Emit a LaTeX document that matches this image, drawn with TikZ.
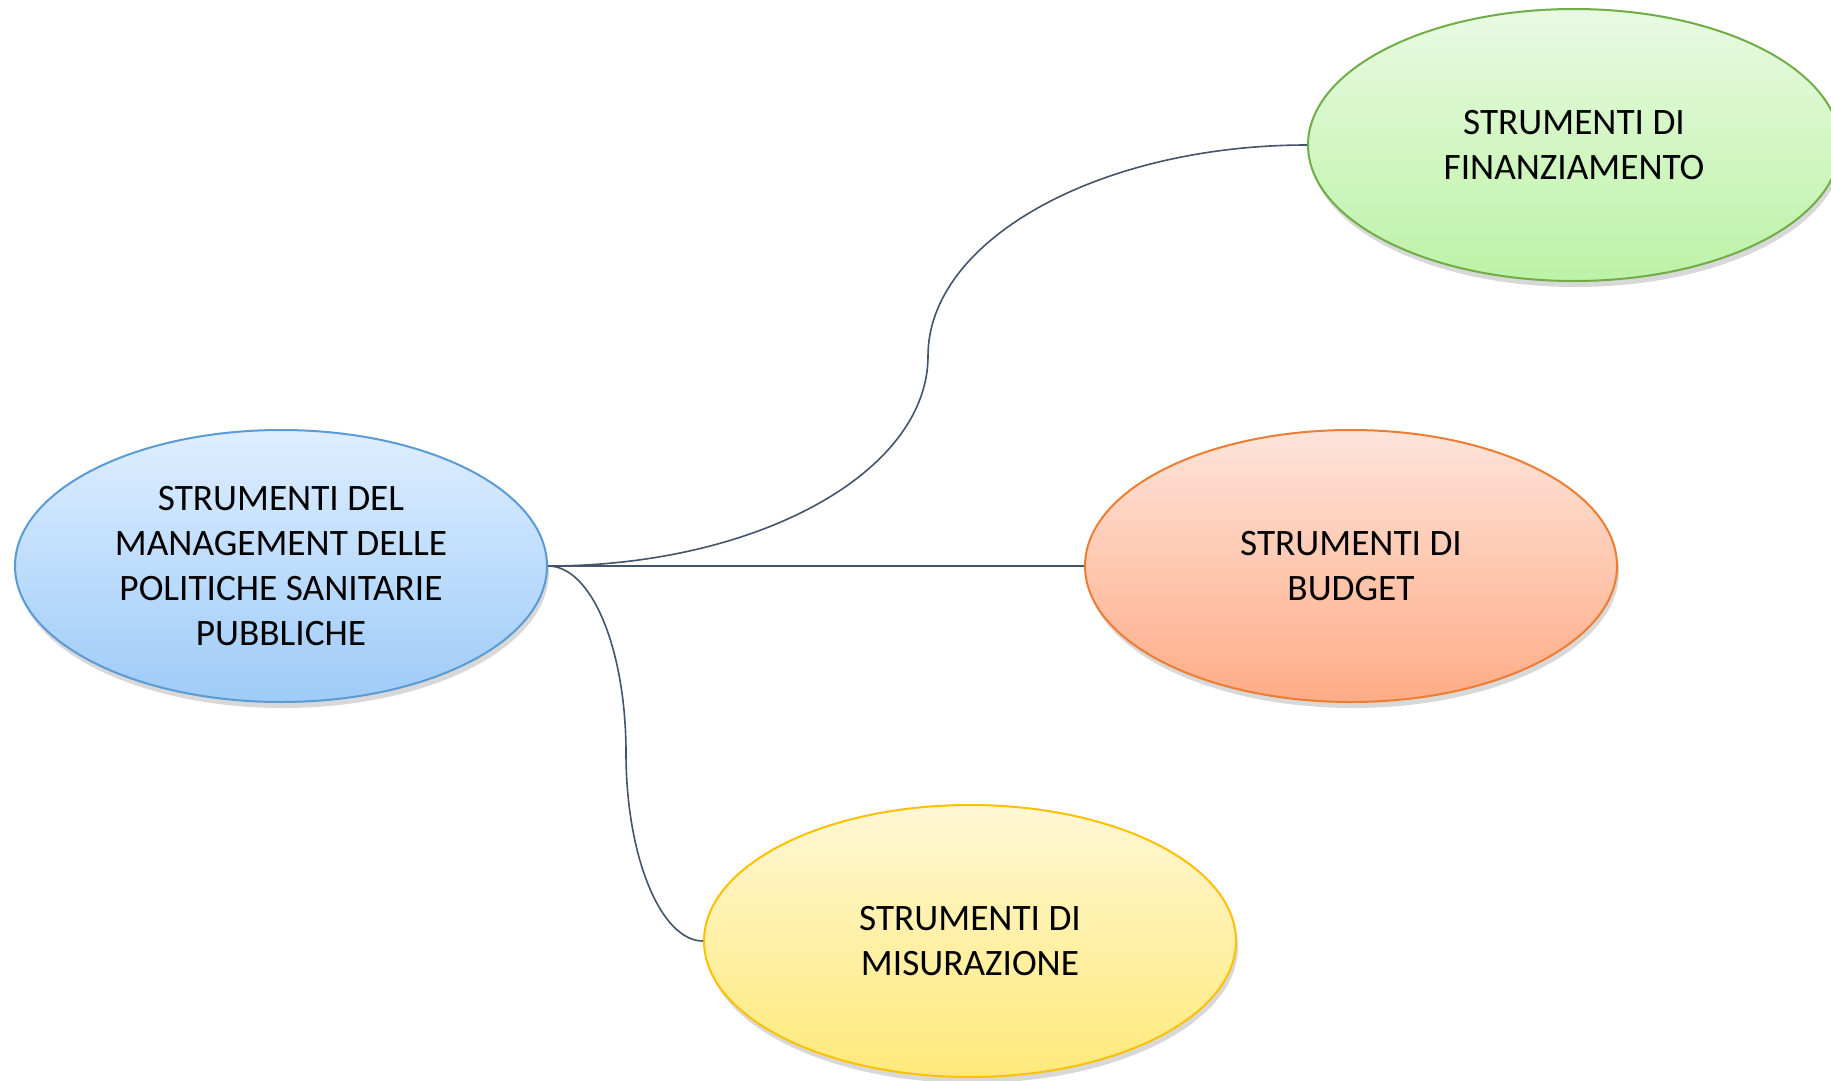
\documentclass[tikz,border=0pt]{standalone}
\usepackage{fontspec}
\setmainfont{Carlito}
\usetikzlibrary{shapes.geometric,shadows}
\definecolor{linkc}{HTML}{44546A}
\definecolor{bluebd}{HTML}{5B9BD5}
\definecolor{bluetop}{RGB}{222,238,255}
\definecolor{bluebot}{RGB}{158,203,248}
\definecolor{greenbd}{RGB}{112,173,71}
\definecolor{greentop}{RGB}{232,250,226}
\definecolor{greenbot}{RGB}{189,242,166}
\definecolor{orangebd}{RGB}{237,125,49}
\definecolor{orangetop}{RGB}{253,228,218}
\definecolor{orangebot}{RGB}{255,172,134}
\definecolor{yellowbd}{RGB}{255,192,0}
\definecolor{yellowtop}{RGB}{255,247,212}
\definecolor{yellowbot}{RGB}{255,233,122}
\tikzset{
  bubble/.style={ellipse, minimum width=532pt, minimum height=272pt, inner sep=0pt,
    line width=2pt, align=center, text=black,
    font=\fontsize{37.3}{45.3}\selectfont,
    drop shadow={opacity=0.3, shadow xshift=2pt, shadow yshift=-6pt}},
  bluebub/.style={bubble, draw=bluebd, top color=bluetop, bottom color=bluebot},
  greenbub/.style={bubble, draw=greenbd, top color=greentop, bottom color=greenbot},
  orangebub/.style={bubble, draw=orangebd, top color=orangetop, bottom color=orangebot},
  yellowbub/.style={bubble, draw=yellowbd, top color=yellowtop, bottom color=yellowbot},
  link/.style={draw=linkc, line width=1.6pt}
}
\begin{document}
\begin{tikzpicture}[x=1pt,y=-1pt]
\useasboundingbox[fill=white] (0,0) rectangle (1831,1081);
\node[bluebub] (blue) at (281,566) {STRUMENTI DEL\\MANAGEMENT DELLE\\POLITICHE SANITARIE\\PUBBLICHE};
\node[greenbub] (green) at (1574,145) {STRUMENTI DI\\FINANZIAMENTO};
\node[orangebub] (orange) at (1351,566) {STRUMENTI DI\\BUDGET};
\node[yellowbub] (yellow) at (970,941) {STRUMENTI DI\\MISURAZIONE};
\coordinate (gmid) at (928,356);
\coordinate (ymid) at (626,753);
\draw[link] (blue.east) .. controls (758,566) and (928,472) .. (gmid)
  .. controls (928,240) and (1099,145) .. (green.west);
\draw[link] (blue.east) -- (orange.west);
\draw[link] (blue.east) .. controls (592,566) and (626,650) .. (ymid)
  .. controls (626,857) and (661,941) .. (yellow.west);
\end{tikzpicture}
\end{document}
